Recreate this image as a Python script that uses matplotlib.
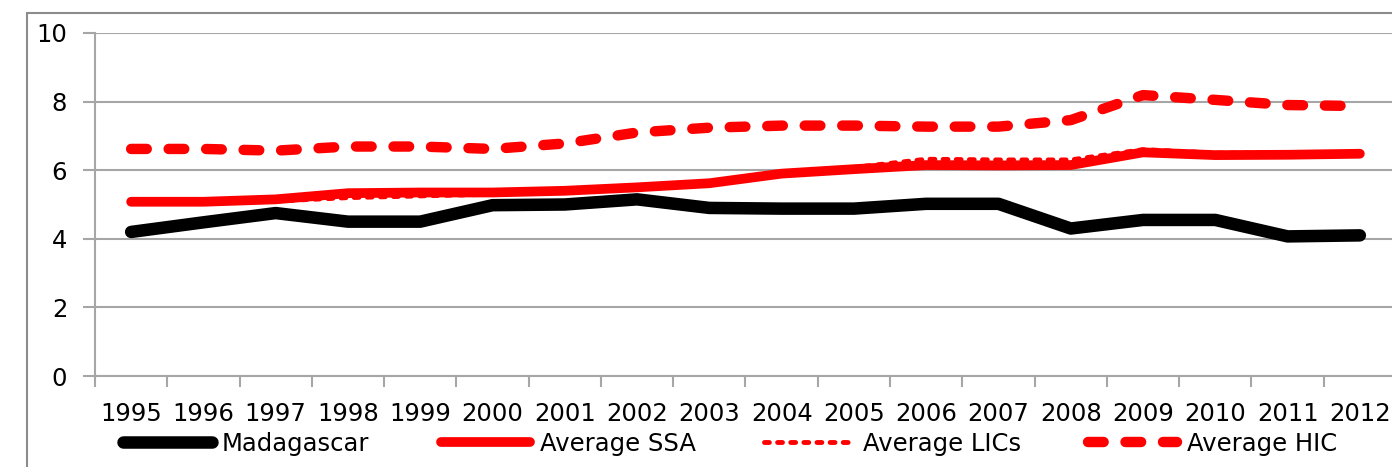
import numpy as np
import matplotlib.pyplot as plt
from matplotlib.patches import Rectangle

# дані
years = [str(y) for y in range(1995, 2013)]
madagascar = [4.2, 4.48, 4.75, 4.5, 4.5, 4.98, 5.0, 5.15, 4.9, 4.88, 4.88, 5.02, 5.02, 4.3, 4.55, 4.55, 4.07, 4.1]
avg_ssa = [5.08, 5.08, 5.15, 5.33, 5.35, 5.35, 5.4, 5.5, 5.62, 5.9, 6.03, 6.15, 6.14, 6.15, 6.52, 6.44, 6.45, 6.48]
avg_lics = [5.08, 5.08, 5.1, 5.2, 5.25, 5.3, 5.38, 5.5, 5.62, 5.9, 6.08, 6.32, 6.3, 6.3, 6.6, 6.5, 6.5, 6.5]
avg_hic = [6.62, 6.62, 6.57, 6.69, 6.69, 6.62, 6.78, 7.1, 7.24, 7.3, 7.3, 7.27, 7.27, 7.46, 8.19, 8.05, 7.9, 7.87]

W, H = 1392, 467
fig = plt.figure(figsize=(W / 100, H / 100), dpi=100)
ax = fig.add_axes([95 / W, (H - 376) / H, 1301 / W, 343 / H])

x = np.arange(len(years))
grid_c = '#A6A6A6'

lines = []
lines += ax.plot(x, madagascar, color='black', lw=9, solid_capstyle='round', solid_joinstyle='round', label='Madagascar')
lines += ax.plot(x, avg_ssa, color='red', lw=7, solid_capstyle='round', solid_joinstyle='round', label='Average SSA')
lines += ax.plot(x, avg_lics, color='red', lw=3.5, linestyle=(0, (1, 1.7)), dash_capstyle='round', label='Average LICs')
lines += ax.plot(x, avg_hic, color='red', lw=7.5, linestyle=(0, (1.5, 2.1)), dash_capstyle='round', label='Average HIC')

ax.set_xlim(-0.5, 17.5)
ax.set_ylim(0, 10)
ax.set_yticks(range(0, 11, 2))
ax.set_xticks(x)
ax.set_xticklabels(years)
ax.set_xticks(np.arange(-0.5, 18, 1), minor=True)
ax.tick_params(axis='x', which='major', length=0, pad=19, labelsize=17.5)
ax.tick_params(axis='x', which='minor', length=8, width=1.5, color=grid_c)
ax.tick_params(axis='y', length=9, width=1.5, color=grid_c, pad=11, labelsize=17.5)
ax.grid(axis='y', color=grid_c, lw=1.5)
ax.set_axisbelow(True)
for s in ['top', 'right']:
    ax.spines[s].set_visible(False)
for s in ['left', 'bottom']:
    ax.spines[s].set_color(grid_c)
    ax.spines[s].set_linewidth(1.5)

# рамка діаграми
fig.patches.append(Rectangle((27 / W, -0.1), 1.0, 1 - 13 / H + 0.1, transform=fig.transFigure,
                             fill=False, edgecolor='#8C8C8C', lw=1.5))

# легенда - кожен запис окремо, як у Excel
leg_x = [123, 441, 764, 1088]
for ln, lx in zip(lines, leg_x):
    lg = fig.legend([ln], [ln.get_label()], loc='center left', bbox_to_anchor=(lx / W, 1 - 444 / H),
                    frameon=False, fontsize=17.5, handlelength=3.66, handletextpad=0.4,
                    borderpad=0, borderaxespad=0)

fig.savefig('out.png', dpi=100)
